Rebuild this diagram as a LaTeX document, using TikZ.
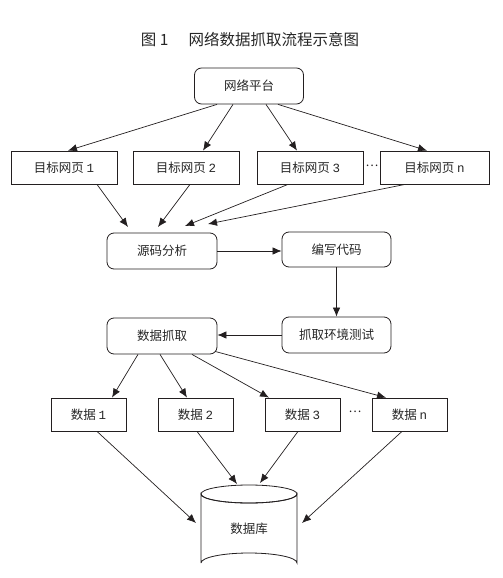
\documentclass[tikz,border=0pt]{standalone}
\usepackage{fontspec}
\newfontfamily\cjk{Noto Sans CJK SC}
\newfontfamily\lat{Liberation Mono}
\usetikzlibrary{arrows.meta,calc}
\definecolor{ink}{HTML}{231F20}
\definecolor{txt}{HTML}{262626}
\tikzset{
  x=1pt,y=-1pt,
  every node/.style={font=\cjk\fontsize{12.5}{14}\selectfont,text=txt},
  rbox/.style={draw=ink,line width=0.8pt,rounded corners=7pt,minimum width=109pt,minimum height=36pt,inner sep=0pt},
  pbox/.style={draw=ink,line width=0.8pt,minimum width=106pt,minimum height=33pt,inner sep=0pt},
  dbox/.style={draw=ink,line width=0.8pt,minimum width=75pt,minimum height=33pt,inner sep=0pt},
  arr/.style={draw=ink,line width=0.7pt,-{Latex[length=9pt,width=7.5pt]}},
  dotsnode/.style={inner sep=0pt,font=\cjk\fontsize{12}{14}\selectfont,text=ink},
}
\begin{document}
\begin{tikzpicture}
\useasboundingbox (0,0) rectangle (503,578);
% title
\node (title) at (250,40) {\fontsize{15.5}{18}\selectfont 图 1\hspace{1.3em}网络数据抓取流程示意图};
% platform
\node[rbox] (np) at (249,86) {网络平台};
% target pages
\node[pbox] (t1) at (64,167.5) {目标网页 {\lat 1}};
\node[pbox] (t2) at (186,167.5) {目标网页 {\lat 2}};
\node[pbox] (t3) at (310,167.5) {目标网页 {\lat 3}};
\node[pbox,minimum width=109pt] (tn) at (434.5,167.5) {目标网页 {\lat n}};
\node[dotsnode] (dots1) at (372,166) {…};
% process
\node[rbox,minimum width=110pt] (ym) at (162,251) {源码分析};
\node[rbox,minimum height=35pt] (bx) at (336.5,249.5) {编写代码};
\node[rbox] (cs) at (336.5,335) {抓取环境测试};
\node[rbox,minimum width=110pt] (zq) at (162,336) {数据抓取};
% data
\node[dbox] (d1) at (88.5,414.5) {数据 {\lat 1}};
\node[dbox] (d2) at (195.5,414.5) {数据 {\lat 2}};
\node[dbox] (d3) at (302.5,414.5) {数据 {\lat 3}};
\node[dbox] (dn) at (409.5,414.5) {数据 {\lat n}};
\node[dotsnode] (dots2) at (355,412) {…};
% database cylinder
\draw[ink,line width=0.8pt,fill=white] (201,563) -- (201,494) arc[start angle=180,end angle=360,x radius=48,y radius=-9] -- (297,563) arc[start angle=0,end angle=180,x radius=48,y radius=-10];
\draw[ink,line width=0.8pt] (249,494) ellipse[x radius=48,y radius=9];
\node[minimum width=96pt,minimum height=78pt,inner sep=0pt] (db) at (249,529) {数据库};
% coordinates for arrow tips
\coordinate (ymA) at (128,227);
\coordinate (ymB) at (158,227);
\coordinate (ymC) at (185,226);
\coordinate (ymD) at (208,224);
\coordinate (dbA) at (196,523);
\coordinate (dbB) at (237,484);
\coordinate (dbC) at (260,483);
\coordinate (dbD) at (302,523);
% arrows from platform
\draw[arr] ([xshift=-32pt]np.south) -- ([xshift=4pt]t1.north);
\draw[arr] ([xshift=-16pt]np.south) -- ([xshift=17pt]t2.north);
\draw[arr] ([xshift=17pt]np.south) -- ([xshift=-13pt]t3.north);
\draw[arr] ([xshift=29pt]np.south) -- ([xshift=-7.5pt]tn.north);
% arrows to source analysis
\draw[arr] ([xshift=33pt]t1.south) -- (ymA);
\draw[arr] ([xshift=4pt]t2.south) -- (ymB);
\draw[arr] ([xshift=-22pt]t3.south) -- (ymC);
\draw[arr] ([xshift=-29.5pt]tn.south) -- (ymD);
% process arrows
\draw[arr] (ym.east) -- (bx.west |- ym.east);
\draw[arr] (bx.south) -- (cs.north);
\draw[arr] (cs.west) -- (zq.east |- cs.west);
% arrows to data
\draw[arr] ([xshift=-24pt]zq.south) -- ([xshift=23.5pt]d1.north);
\draw[arr] ([xshift=-2pt]zq.south) -- ([xshift=-8.5pt]d2.north);
\draw[arr] ([xshift=30pt]zq.south) -- ([xshift=-33.5pt]d3.north);
\draw[arr] ([xshift=53pt,yshift=3pt]zq.south) -- ([xshift=-23.5pt]dn.north);
% arrows to database
\draw[arr] ([xshift=8.5pt]d1.south) -- (dbA);
\draw[arr] ([xshift=1.5pt]d2.south) -- (dbB);
\draw[arr] ([xshift=-4.5pt]d3.south) -- (dbC);
\draw[arr] ([xshift=-7.5pt]dn.south) -- (dbD);
\end{tikzpicture}
\end{document}
